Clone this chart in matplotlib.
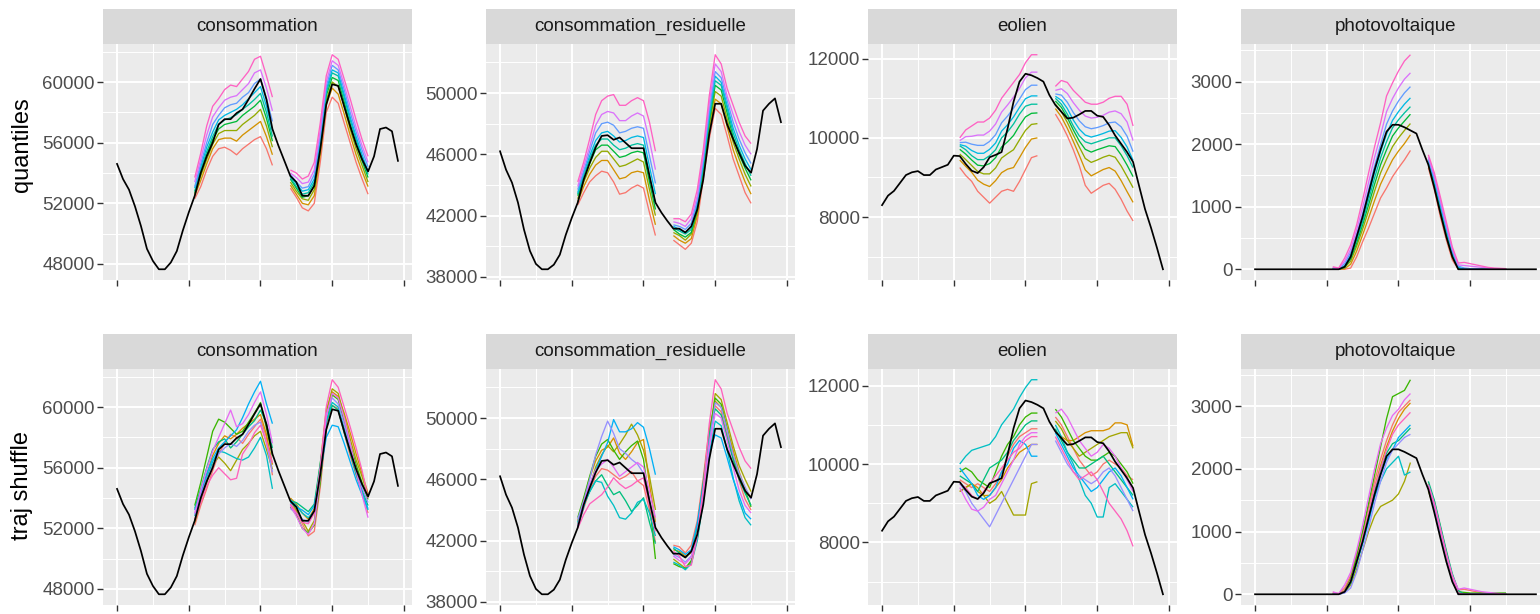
import numpy as np
import matplotlib as mpl; mpl.use("Agg")
import matplotlib.pyplot as plt

plt.rcParams["font.family"] = ["Liberation Sans", "DejaVu Sans"]

W, H = 1540, 614
HOURS = list(range(48))
SEG1 = list(range(13, 27))
SEG2 = list(range(29, 43))

TITLES = ["consommation", "consommation_residuelle", "eolien", "photovoltaique"]
ROW_LABELS = ["quantiles", "traj shuffle"]

# observed day (black line), hourly
CONSO_OBS = [54600, 53600, 52900, 51800, 50500, 49000, 48200, 47650, 47650, 48100, 48850, 50200,
             51400, 52500, 54000, 55100, 56000, 57200, 57550, 57550, 57950, 58200, 58850, 59550,
             60200, 58850, 56900, 55800, 54800, 53800, 53400, 52500, 52500, 53150, 55550, 58500,
             59850, 59750, 58400, 57100, 55900, 54900, 54100, 55100, 56900, 57000, 56750, 54800]
RESID_OBS = [46200, 45000, 44150, 42850, 41100, 39700, 38850, 38500, 38500, 38800, 39450, 40750,
             41850, 42850, 44350, 45450, 46450, 47200, 47250, 46950, 47100, 46750, 46400, 46400,
             46400, 44600, 42850, 42200, 41650, 41150, 41150, 40900, 41300, 42400, 44350, 47300,
             49300, 49300, 47950, 47000, 46100, 45250, 44800, 46350, 48850, 49300, 49650, 48100]
EOL_OBS = [8300, 8540, 8660, 8860, 9060, 9130, 9160, 9060, 9060, 9200, 9260, 9320,
           9550, 9540, 9340, 9170, 9110, 9260, 9510, 9570, 9640, 10230, 10910, 11420,
           11620, 11580, 11510, 11420, 11080, 10830, 10660, 10490, 10510, 10590, 10680, 10680,
           10560, 10530, 10320, 10060, 9850, 9640, 9390, 8790, 8200, 7730, 7220, 6680]
PV_OBS = [0, 0, 0, 0, 0, 0, 0, 0, 0, 0, 0, 0,
          0, 0, 0, 40, 200, 520, 840, 1220, 1590, 1910, 2200, 2310,
          2310, 2270, 2220, 2170, 1910, 1670, 1300, 900, 520, 200, 0, 0,
          0, 0, 0, 0, 0, 0, 0, 0, 0, 0, 0, 0]

# quantile forecasts, lowest to highest level (hours 13-26 and 29-42)
CONSO_Q1 = [
    [52300, 53100, 54200, 55100, 55600, 55700, 55500, 55200, 55600, 55900, 56200, 56400, 55600, 54500],
    [52500, 53500, 54600, 55600, 56200, 56300, 56300, 56100, 56500, 56800, 57100, 57400, 56400, 55200],
    [52600, 53800, 54900, 55900, 56600, 56800, 56800, 56800, 57200, 57500, 57800, 58200, 57100, 55700],
    [52700, 54000, 55200, 56200, 56900, 57200, 57300, 57400, 57800, 58100, 58400, 58800, 57600, 56100],
    [52800, 54200, 55400, 56400, 57200, 57500, 57650, 57850, 58200, 58500, 58850, 59250, 58000, 56400],
    [53000, 54400, 55700, 56700, 57500, 57800, 58000, 58200, 58500, 58900, 59300, 59700, 58400, 56800],
    [53100, 54600, 56000, 57200, 57800, 58300, 58500, 58600, 59000, 59300, 59900, 60200, 58900, 57400],
    [53400, 54900, 56500, 57700, 58300, 58800, 59000, 59100, 59500, 59900, 60600, 60800, 59600, 58100],
    [53700, 55300, 57100, 58400, 58900, 59500, 59800, 59700, 60200, 60700, 61500, 61700, 60400, 59000]]
CONSO_Q2 = [
    [53000, 52400, 51700, 51500, 52000, 54700, 58000, 59000, 58600, 57300, 56000, 54700, 53600, 52600],
    [53200, 52600, 52000, 51900, 52500, 55200, 58500, 59600, 59200, 57900, 56500, 55200, 54100, 53100],
    [53400, 52800, 52300, 52200, 52900, 55500, 58800, 60000, 59700, 58400, 56900, 55600, 54500, 53400],
    [53600, 53000, 52400, 52500, 53200, 55800, 59100, 60300, 60100, 58700, 57200, 55900, 54800, 53700],
    [53700, 53100, 52600, 52700, 53400, 56000, 59300, 60600, 60400, 59000, 57500, 56200, 55000, 53900],
    [53800, 53300, 52800, 52900, 53600, 56200, 59500, 60800, 60600, 59200, 57700, 56400, 55200, 54100],
    [53900, 53400, 53000, 53100, 53900, 56500, 59700, 61100, 60800, 59500, 58000, 56700, 55500, 54400],
    [54000, 53700, 53300, 53400, 54200, 56800, 60000, 61400, 61100, 59800, 58400, 57000, 55800, 54700],
    [54200, 54000, 53600, 53800, 54700, 57300, 60400, 61800, 61500, 60200, 58900, 57500, 56200, 55100]]
RESID_Q1 = [
    [42700, 43500, 44200, 44600, 44900, 44800, 44200, 43400, 43500, 43800, 44000, 43800, 42200, 40700],
    [42900, 43900, 44700, 45300, 45600, 45600, 45000, 44400, 44500, 44800, 44900, 44800, 43000, 41400],
    [43100, 44200, 45100, 45800, 46200, 46200, 45700, 45200, 45300, 45500, 45700, 45500, 43700, 42000],
    [43300, 44400, 45400, 46300, 46600, 46600, 46200, 45800, 45900, 46100, 46200, 46100, 44200, 42400],
    [43400, 44600, 45700, 46600, 47000, 47000, 46600, 46300, 46400, 46600, 46700, 46600, 44600, 42800],
    [43500, 44800, 45900, 46900, 47400, 47500, 47200, 46800, 46900, 47100, 47200, 47100, 45200, 43400],
    [43700, 44900, 46200, 47400, 48000, 48100, 47900, 47400, 47500, 47700, 47800, 47700, 45900, 44100],
    [43900, 45200, 46500, 47900, 48600, 48800, 48700, 48200, 48200, 48500, 48700, 48500, 46900, 45000],
    [44200, 45500, 47000, 48600, 49500, 49800, 49900, 49200, 49200, 49500, 49700, 49500, 48100, 46200]]
RESID_Q2 = [
    [40400, 40100, 39800, 40200, 41600, 44400, 47000, 49000, 48600, 47200, 45700, 44600, 43500, 42800],
    [40700, 40400, 40200, 40500, 42000, 44700, 47500, 49600, 49300, 47800, 46300, 45200, 44200, 43400],
    [40900, 40700, 40400, 40800, 42200, 44900, 47800, 50100, 49800, 48300, 46800, 45700, 44700, 43900],
    [41100, 40800, 40600, 40900, 42400, 45100, 48100, 50500, 50200, 48700, 47100, 46000, 45100, 44300],
    [41200, 41000, 40800, 41100, 42600, 45200, 48300, 50800, 50500, 49000, 47400, 46300, 45400, 44600],
    [41300, 41100, 40900, 41300, 42800, 45400, 48600, 51100, 50700, 49200, 47700, 46600, 45700, 45000],
    [41400, 41300, 41100, 41500, 43000, 45600, 48900, 51400, 51000, 49500, 48100, 47000, 46100, 45400],
    [41600, 41500, 41300, 41800, 43300, 45900, 49300, 51900, 51400, 49800, 48600, 47500, 46600, 46000],
    [41800, 41800, 41600, 42100, 43700, 46300, 49800, 52500, 51900, 50300, 49200, 48100, 47200, 46700]]
EOL_Q1 = [
    [9250, 9050, 8900, 8650, 8500, 8350, 8500, 8650, 8700, 8650, 8900, 9200, 9500, 9550],
    [9440, 9280, 9130, 8930, 8830, 8770, 8920, 9120, 9210, 9250, 9500, 9760, 9970, 10000],
    [9590, 9450, 9300, 9150, 9090, 9090, 9240, 9490, 9600, 9700, 9950, 10190, 10340, 10360],
    [9710, 9590, 9440, 9310, 9290, 9350, 9500, 9770, 9900, 10060, 10310, 10530, 10620, 10630],
    [9800, 9700, 9550, 9450, 9450, 9550, 9700, 10000, 10150, 10350, 10600, 10800, 10850, 10850],
    [9830, 9790, 9680, 9610, 9610, 9710, 9870, 10170, 10330, 10530, 10770, 10990, 11060, 11060],
    [9880, 9890, 9840, 9810, 9810, 9910, 10080, 10380, 10550, 10750, 10980, 11220, 11330, 11330],
    [9930, 10030, 10040, 10070, 10070, 10170, 10350, 10650, 10830, 11030, 11250, 11520, 11660, 11660],
    [10000, 10200, 10300, 10400, 10400, 10500, 10700, 11000, 11200, 11400, 11600, 11900, 12100, 12100]]
EOL_Q2 = [
    [10600, 10350, 10050, 9700, 9300, 8800, 8600, 8700, 8800, 8850, 8700, 8450, 8150, 7900],
    [10740, 10530, 10240, 9910, 9560, 9190, 9040, 9120, 9200, 9250, 9160, 8920, 8640, 8370],
    [10850, 10660, 10390, 10070, 9770, 9480, 9380, 9440, 9510, 9560, 9510, 9290, 9020, 8740],
    [10930, 10770, 10510, 10200, 9920, 9710, 9640, 9700, 9750, 9800, 9780, 9570, 9310, 9020],
    [11000, 10850, 10600, 10300, 10050, 9900, 9850, 9900, 9950, 10000, 10000, 9800, 9550, 9250],
    [11050, 10950, 10740, 10450, 10220, 10070, 10020, 10060, 10110, 10170, 10180, 10010, 9770, 9430],
    [11110, 11080, 10900, 10640, 10430, 10280, 10230, 10260, 10310, 10380, 10400, 10280, 10040, 9650],
    [11200, 11240, 11120, 10890, 10700, 10550, 10500, 10520, 10570, 10650, 10680, 10610, 10400, 9930],
    [11300, 11450, 11400, 11200, 11050, 10900, 10850, 10850, 10900, 11000, 11050, 11050, 10850, 10300]]
PV_Q1 = [
    [0, 0, 0, 20, 200, 440, 660, 900, 1140, 1300, 1480, 1620, 1750, 1900],
    [0, 0, 10, 80, 290, 550, 820, 1100, 1360, 1560, 1750, 1890, 2010, 2150],
    [0, 0, 30, 130, 370, 640, 940, 1250, 1540, 1760, 1960, 2100, 2220, 2330],
    [0, 0, 30, 170, 420, 710, 1030, 1360, 1670, 1910, 2130, 2260, 2370, 2480],
    [0, 0, 40, 200, 470, 760, 1110, 1460, 1780, 2040, 2260, 2390, 2500, 2600],
    [10, 0, 60, 230, 510, 820, 1180, 1550, 1880, 2160, 2380, 2520, 2640, 2740],
    [20, 10, 90, 270, 560, 890, 1270, 1650, 1990, 2320, 2530, 2690, 2820, 2920],
    [30, 10, 130, 320, 630, 990, 1390, 1790, 2140, 2520, 2730, 2900, 3040, 3140],
    [40, 20, 180, 390, 710, 1110, 1540, 1960, 2340, 2770, 2980, 3170, 3330, 3430]]
PV_Q2 = [
    [1620, 1270, 840, 470, 150, 0, 0, 0, 0, 0, 0, 0, 0, 0],
    [1660, 1320, 900, 520, 190, 10, 0, 0, 0, 0, 0, 0, 0, 0],
    [1680, 1350, 940, 560, 220, 10, 0, 0, 0, 0, 0, 0, 0, 0],
    [1700, 1380, 970, 590, 240, 20, 0, 0, 0, 0, 0, 0, 0, 0],
    [1720, 1400, 1000, 620, 260, 20, 0, 0, 0, 0, 0, 0, 0, 0],
    [1740, 1420, 1030, 640, 280, 30, 0, 0, 0, 0, 0, 0, 0, 0],
    [1760, 1450, 1060, 670, 300, 50, 20, 10, 10, 0, 0, 0, 0, 0],
    [1790, 1490, 1100, 710, 330, 70, 60, 50, 40, 30, 20, 10, 10, 0],
    [1830, 1540, 1160, 760, 360, 100, 110, 90, 70, 50, 30, 20, 15, 10]]

# shuffled trajectories (hours 13-26 and 29-42)
CONSO_T1 = [
    [52200, 53500, 54600, 55800, 56900, 57600, 58200, 58000, 57600, 58200, 58700, 59200, 58000, 55500],
    [52500, 54000, 55500, 56800, 57600, 58100, 57900, 58200, 58600, 58900, 59200, 59500, 58200, 56200],
    [52400, 53800, 55000, 56200, 56700, 56300, 55800, 56500, 57200, 57600, 58100, 58400, 57200, 55900],
    [53500, 55000, 56700, 58400, 59200, 59000, 58600, 58200, 58400, 59000, 59600, 60300, 58600, 56800],
    [53300, 54600, 56000, 57200, 57700, 57900, 57300, 57700, 58200, 58700, 59100, 59800, 58900, 57300],
    [52800, 54100, 55300, 56400, 57100, 57000, 56800, 56600, 56500, 56700, 57300, 58000, 56800, 54600],
    [53200, 54300, 55600, 56600, 57300, 57700, 58100, 58500, 59300, 60200, 61000, 61700, 60200, 58900],
    [52900, 54200, 55200, 56100, 56900, 57300, 57600, 57400, 57800, 58400, 58800, 59000, 57600, 55700],
    [53000, 54500, 55900, 57100, 58000, 58900, 59800, 58700, 58900, 59500, 60300, 61000, 59500, 57600],
    [52600, 53700, 54800, 55500, 56000, 55600, 55200, 55300, 56900, 57500, 58300, 58800, 57700, 56300]]
CONSO_T2 = [
    [53600, 53100, 52300, 51500, 51800, 54700, 58500, 60100, 59900, 58300, 56800, 55500, 54300, 53000],
    [54000, 53600, 53000, 52600, 53300, 56200, 59800, 61000, 60700, 59600, 58300, 56900, 55600, 54300],
    [53800, 53200, 52500, 51800, 52500, 55800, 59600, 61200, 60900, 59400, 57900, 56500, 55400, 54100],
    [53400, 52900, 52000, 51700, 52200, 55000, 58900, 60800, 60500, 59000, 57500, 56200, 55000, 53900],
    [53800, 53700, 53400, 53100, 53600, 56300, 59000, 60100, 59800, 58300, 57000, 55600, 54500, 53500],
    [53900, 53500, 53000, 52700, 53100, 55800, 59000, 60300, 60000, 58600, 57100, 55700, 54400, 53200],
    [53700, 53400, 53200, 52900, 53500, 55600, 58000, 58800, 58700, 57600, 56400, 55200, 54200, 53300],
    [53300, 53000, 52600, 52400, 53100, 55900, 59500, 60600, 60200, 58900, 57300, 55900, 54700, 53700],
    [53500, 52800, 52000, 51600, 52300, 55400, 59300, 60900, 60600, 59300, 57600, 55800, 54200, 52700],
    [53600, 53000, 52400, 52300, 53000, 56000, 60000, 61800, 61300, 60000, 58700, 57300, 55800, 54000]]
RESID_T1 = [
    [42900, 44100, 45300, 46200, 46700, 46600, 46300, 46000, 46200, 46500, 45900, 45600, 44000, 41900],
    [43300, 44700, 46100, 47200, 47900, 48100, 48700, 47700, 47300, 47800, 48400, 48600, 45700, 43200],
    [43000, 44300, 45500, 46800, 47600, 48200, 47800, 48300, 48900, 49600, 48900, 47900, 46200, 44000],
    [43500, 44800, 46200, 47500, 48300, 48600, 47900, 47300, 47800, 48200, 48500, 47300, 44500, 40800],
    [43100, 44300, 45200, 45900, 46300, 45600, 45000, 45200, 44600, 43900, 44300, 44800, 43200, 41800],
    [43200, 44400, 45200, 45900, 45800, 44900, 44300, 43500, 43400, 43800, 44500, 44700, 43800, 42300],
    [42900, 44200, 45600, 46600, 47500, 48400, 49900, 49100, 49100, 49300, 49700, 49400, 48000, 46300],
    [43400, 44600, 46000, 47600, 48800, 49800, 49000, 48000, 47700, 47300, 47000, 46400, 44600, 43000],
    [43000, 44400, 45700, 46600, 47000, 47300, 46800, 46200, 46500, 46800, 47100, 46800, 45200, 43500],
    [42800, 43700, 44400, 44700, 45000, 45500, 46100, 45700, 45400, 45600, 45900, 46100, 44300, 42600]]
RESID_T2 = [
    [41700, 41600, 41200, 41700, 43300, 46100, 49300, 50800, 50400, 48900, 47400, 45900, 44700, 44000],
    [41400, 41300, 41000, 41200, 42800, 45600, 49200, 51100, 50700, 49300, 47900, 46500, 45400, 44800],
    [40800, 40500, 40200, 40600, 42100, 44800, 48600, 51600, 51200, 49700, 48200, 46900, 46000, 45200],
    [40500, 40300, 40200, 40700, 42200, 45100, 48900, 51300, 50900, 49300, 47500, 46300, 45300, 44200],
    [41500, 41200, 40900, 41300, 42900, 45800, 48900, 50600, 50200, 48700, 47300, 46000, 45100, 44300],
    [40600, 40400, 40100, 40500, 42000, 44600, 47600, 49800, 49500, 47900, 46100, 44600, 43500, 43000],
    [41600, 41400, 41100, 41400, 43100, 45600, 47800, 48900, 48700, 47400, 46000, 44900, 43800, 43400],
    [41100, 40900, 40600, 41000, 42500, 45200, 48400, 51000, 50700, 49200, 47600, 46400, 45500, 44700],
    [41000, 40700, 40500, 40900, 42400, 44900, 48100, 50300, 50000, 48500, 46800, 45300, 44300, 43800],
    [41300, 41000, 40300, 40400, 42300, 45400, 49600, 52500, 51900, 50300, 49200, 48100, 47200, 46700]]
EOL_T1 = [
    [9600, 9500, 9400, 9500, 9400, 9300, 9500, 9800, 10200, 10500, 10700, 10800, 10900, 10900],
    [9300, 9400, 9500, 9400, 9200, 9200, 9400, 9600, 9900, 10100, 10300, 10400, 10500, 10500],
    [9300, 9400, 9500, 9300, 9200, 9000, 9100, 9300, 9000, 8700, 8700, 8700, 9500, 9550],
    [9800, 9900, 9800, 9600, 9500, 9400, 9800, 10200, 10500, 10700, 11000, 11200, 11300, 11300],
    [9700, 9600, 9500, 9300, 9600, 9900, 10000, 10100, 10300, 10600, 10800, 11000, 11100, 11100],
    [10000, 10200, 10350, 10400, 10450, 10500, 10700, 11000, 11200, 11400, 11700, 11950, 12150, 12150],
    [9900, 9700, 9500, 9200, 9100, 9200, 9400, 9800, 10000, 10400, 10600, 10500, 10200, 10200],
    [9500, 9300, 9000, 8800, 8600, 8400, 8700, 9000, 9300, 9600, 9900, 10200, 10500, 10500],
    [9400, 9100, 8850, 8800, 8900, 9100, 9200, 9500, 9800, 10100, 10500, 10700, 10800, 10800],
    [9500, 9400, 9200, 9100, 9300, 9500, 9700, 9900, 10100, 10300, 10400, 10600, 10700, 10700]]
EOL_T2 = [
    [11200, 11000, 10700, 10400, 10100, 9900, 9700, 9800, 10000, 10100, 10000, 9900, 9700, 9600],
    [10800, 10700, 10600, 10600, 10700, 10800, 10850, 10850, 10850, 10900, 11050, 11050, 11000, 10450],
    [11100, 10900, 10600, 10400, 10200, 10300, 10400, 10500, 10600, 10700, 10750, 10800, 10800, 10400],
    [11400, 11200, 10900, 10600, 10400, 10200, 10100, 10100, 10200, 10300, 10200, 10000, 9800, 9500],
    [10900, 10600, 10300, 10100, 9900, 9900, 10000, 10100, 10200, 10000, 9800, 9600, 9400, 9200],
    [11000, 10700, 10300, 10000, 9600, 9200, 9000, 8650, 8650, 9400, 9500, 9300, 9100, 8900],
    [10800, 10500, 10200, 9900, 9700, 9500, 9300, 9400, 9600, 9800, 9900, 9700, 9400, 9100],
    [10600, 10300, 10000, 9800, 9700, 9600, 9500, 9600, 9800, 9900, 9700, 9400, 9100, 8800],
    [11300, 11400, 11200, 10900, 10600, 10400, 10200, 10300, 10500, 10400, 10200, 9900, 9600, 9300],
    [10700, 10400, 10100, 9800, 9600, 9700, 9800, 9600, 9300, 9000, 8800, 8600, 8300, 7900]]
PV_T1 = [
    [30, 10, 100, 300, 650, 1000, 1400, 1800, 2150, 2450, 2700, 2900, 3000, 3100],
    [0, 0, 60, 250, 550, 900, 1300, 1700, 2050, 2350, 2600, 2800, 2950, 3050],
    [0, 0, 30, 150, 400, 700, 1000, 1250, 1400, 1450, 1500, 1600, 1800, 2100],
    [0, 0, 50, 250, 600, 1000, 1450, 1900, 2350, 2800, 3150, 3200, 3250, 3420],
    [0, 0, 30, 180, 480, 850, 1250, 1650, 2000, 2250, 2400, 2450, 2550, 2650],
    [0, 0, 40, 200, 500, 850, 1200, 1550, 1800, 2000, 2100, 2200, 1900, 1950],
    [0, 0, 40, 200, 500, 800, 1150, 1550, 1900, 2150, 2300, 2500, 2600, 2700],
    [0, 0, 20, 100, 350, 700, 1050, 1450, 1800, 2100, 2300, 2400, 2500, 2550],
    [40, 10, 150, 350, 700, 1100, 1550, 2000, 2400, 2650, 2850, 2950, 3100, 3200],
    [0, 0, 50, 220, 520, 900, 1300, 1700, 2000, 2300, 2550, 2700, 2800, 2900]]
PV_T2 = [
    [1740, 1460, 1060, 660, 310, 70, 80, 60, 40, 30, 20, 10, 0, 0],
    [1760, 1480, 1080, 680, 290, 30, 0, 0, 0, 0, 0, 0, 0, 0],
    [1650, 1350, 950, 560, 220, 10, 0, 0, 0, 0, 0, 0, 0, 0],
    [1720, 1400, 1000, 640, 260, 40, 30, 20, 20, 20, 20, 20, 20, 20],
    [1800, 1500, 1100, 700, 330, 60, 0, 0, 0, 0, 0, 0, 0, 0],
    [1700, 1420, 1020, 620, 270, 20, 0, 0, 0, 0, 0, 0, 0, 0],
    [1690, 1390, 990, 600, 250, 10, 0, 0, 0, 0, 0, 0, 0, 0],
    [1680, 1380, 980, 600, 240, 0, 0, 0, 0, 0, 0, 0, 0, 0],
    [1750, 1450, 1050, 650, 300, 80, 100, 80, 60, 40, 30, 20, 10, 0],
    [1710, 1430, 1030, 630, 280, 20, 0, 0, 0, 0, 0, 0, 0, 0]]

YTICKS = [[48000, 52000, 56000, 60000], [38000, 42000, 46000, 50000],
          [8000, 10000, 12000], [0, 1000, 2000, 3000]]

# ggplot2 default hue palettes
HUE9 = ["#F8766D", "#D39200", "#93AA00", "#00BA38", "#00C19F", "#00B9E3", "#619CFF", "#DB72FB", "#FF61C3"]
HUE10 = ["#F8766D", "#D89000", "#A3A500", "#39B600", "#00BF7D", "#00BFC4", "#00B0F6", "#9590FF", "#E76BF3", "#FF62BC"]

OBS = [CONSO_OBS, RESID_OBS, EOL_OBS, PV_OBS]
ROWS = [([CONSO_Q1, RESID_Q1, EOL_Q1, PV_Q1], [CONSO_Q2, RESID_Q2, EOL_Q2, PV_Q2], HUE9),
        ([CONSO_T1, RESID_T1, EOL_T1, PV_T1], [CONSO_T2, RESID_T2, EOL_T2, PV_T2], HUE10)]

# layout in pixels
COL_X = [103, 486, 868, 1241]
ROW_Y = [9, 334]
PW, PH, SH = 309, 236, 35
ROW_LABEL_Y = [145, 486]

fig = plt.figure(figsize=(W / 100, H / 100), dpi=100)
fig.patch.set_facecolor("white")

def px_axes(x, y, w, h):
    return fig.add_axes([x / W, 1 - (y + h) / H, w / W, h / H])

def draw_panel(ax, obs, seg1, seg2, colors, yticks):
    ax.set_facecolor("#EBEBEB")
    for rows, hrs in ((seg1, SEG1), (seg2, SEG2)):
        for i, r in enumerate(rows):
            ax.plot(hrs, r, color=colors[i], lw=0.95, zorder=2, solid_capstyle="butt")
    ax.plot(HOURS, obs, color="black", lw=1.25, zorder=3)
    allv = np.concatenate([np.asarray(obs, float), np.ravel(seg1), np.ravel(seg2)])
    lo, hi = allv.min(), allv.max(); pad = (hi - lo) * 0.05
    ax.set_xticks([0, 12, 24, 36, 48]); ax.set_xticks([6, 18, 30, 42], minor=True)
    step = yticks[1] - yticks[0]
    ax.set_yticks(yticks)
    ax.set_yticks([yticks[0] - step / 2] + [t + step / 2 for t in yticks], minor=True)
    ax.set_xticklabels([]); ax.set_yticklabels([str(t) for t in yticks])
    ax.set_xlim(-2.35, 49.35); ax.set_ylim(lo - pad, hi + pad)
    ax.grid(which="major", color="white", lw=1.4)
    ax.grid(which="minor", color="white", lw=0.7)
    ax.set_axisbelow(True)
    ax.tick_params(which="minor", length=0)
    ax.tick_params(which="major", length=4, width=1.0, color="#333333",
                   labelcolor="#4D4D4D", labelsize=13.5, pad=2)
    for s in ax.spines.values(): s.set_visible(False)

for r, (segs1, segs2, cols) in enumerate(ROWS):
    for c in range(4):
        sax = px_axes(COL_X[c], ROW_Y[r], PW, SH)
        sax.set_facecolor("#D9D9D9"); sax.set_xticks([]); sax.set_yticks([])
        for s in sax.spines.values(): s.set_visible(False)
        sax.text(0.5, 0.5, TITLES[c], ha="center", va="center", fontsize=13.5,
                 color="#1A1A1A", transform=sax.transAxes)
        ax = px_axes(COL_X[c], ROW_Y[r] + SH, PW, PH)
        draw_panel(ax, OBS[c], segs1[c], segs2[c], cols, YTICKS[c])
    fig.text(22 / W, 1 - ROW_LABEL_Y[r] / H, ROW_LABELS[r], rotation=90,
             ha="center", va="center", fontsize=17, color="black")

fig.savefig("out.png", dpi=100)
